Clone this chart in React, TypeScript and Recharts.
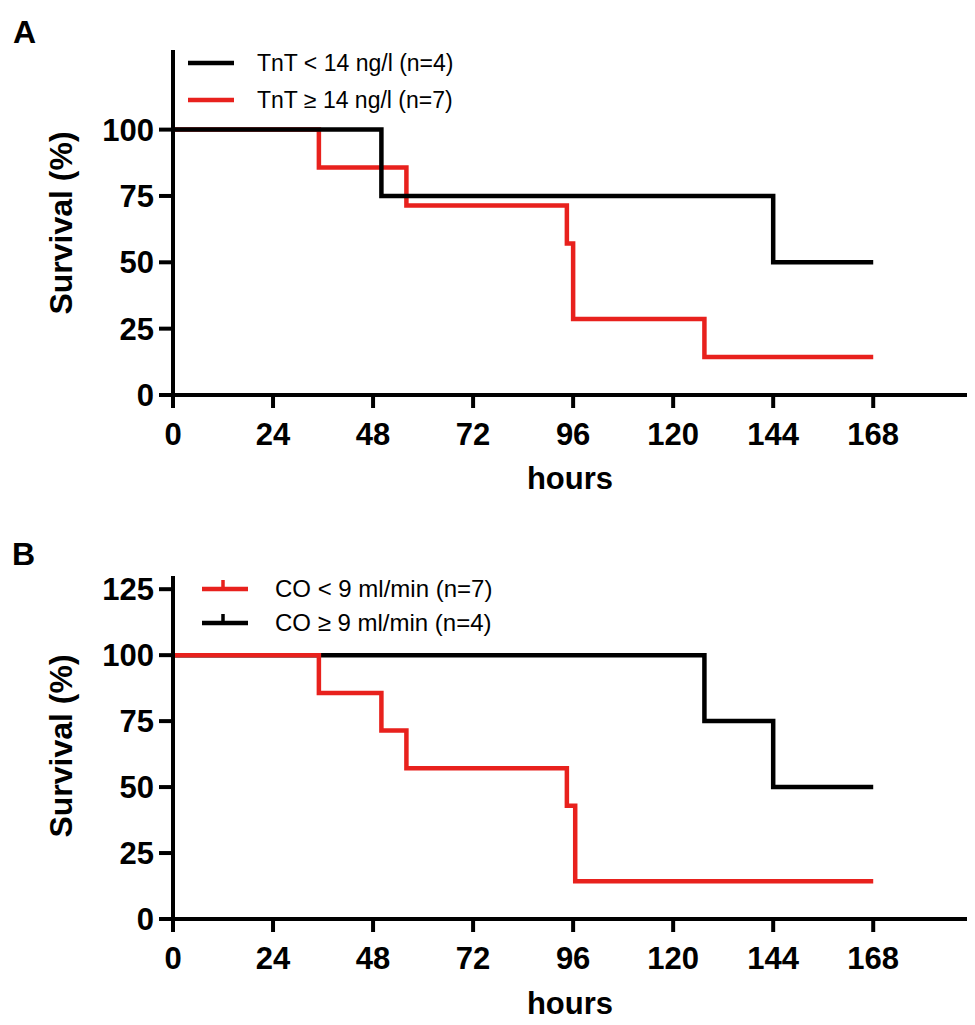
import { Line, LineChart, XAxis, YAxis, Label } from "recharts";

const hourTicks = [0, 24, 48, 72, 96, 120, 144, 168];
const survTicksA = [0, 25, 50, 75, 100];
const survTicksB = [0, 25, 50, 75, 100, 125];

// panel A: troponin T groups
const tntLowHours = [0, 50, 144, 168];
const tntLowSurv = [100, 75, 50, 50];
const tntHighHours = [0, 35, 56, 94.5, 96, 127.5, 168];
const tntHighSurv = [100, 85.7, 71.4, 57.1, 28.6, 14.3, 14.3];

// panel B: cardiac output groups
const coLowHours = [0, 35, 50, 56, 94.5, 96.5, 168];
const coLowSurv = [100, 85.7, 71.4, 57.1, 42.9, 14.3, 14.3];
const coHighHours = [0, 127.5, 144, 168];
const coHighSurv = [100, 75, 50, 50];

const RED = "#e8211d";
const FONT = "'Liberation Sans', Arial, Helvetica, sans-serif";

const pts = (h: number[], s: number[]) => h.map((t, i) => ({ t, s: s[i] }));

const tickStyle = { fontSize: 31, fontWeight: 700, fill: "#000", fontFamily: FONT };
const axisStroke = { stroke: "#000", strokeWidth: 4 };

function yTitle(cy: number) {
  return () => (
    <text
      x={61}
      y={cy}
      transform={`rotate(-90 61 ${cy})`}
      textAnchor="middle"
      dominantBaseline="central"
      style={{ fontSize: 32, fontWeight: 700, fontFamily: FONT, fill: "#000" }}
    >
      Survival (%)
    </text>
  );
}

function xTitle(baseline: number) {
  return () => (
    <text
      x={570}
      y={baseline}
      textAnchor="middle"
      style={{ fontSize: 31, fontWeight: 700, fontFamily: FONT, fill: "#000" }}
    >
      hours
    </text>
  );
}

function LegendRow({
  color,
  label,
  top,
  lineLeft,
  textLeft,
  size,
  censor,
}: {
  color: string;
  label: string;
  top: number;
  lineLeft: number;
  textLeft: number;
  size: number;
  censor?: boolean;
}) {
  return (
    <div style={{ position: "absolute", left: 0, top: top - 15, height: 30, width: 600 }}>
      <svg style={{ position: "absolute", left: lineLeft, top: 0 }} width={48} height={30}>
        <line x1={0} y1={15} x2={46} y2={15} stroke={color} strokeWidth={4.5} />
        {censor && <line x1={21} y1={6} x2={21} y2={17} stroke={color} strokeWidth={3.5} />}
      </svg>
      <div
        style={{
          position: "absolute",
          left: textLeft,
          top: 0,
          height: 30,
          lineHeight: "30px",
          fontSize: size,
          fontFamily: FONT,
          color: "#000",
          whiteSpace: "nowrap",
        }}
      >
        {label}
      </div>
    </div>
  );
}

export default function App() {
  return (
    <div
      style={{
        position: "absolute",
        left: 0,
        top: 0,
        width: 975,
        height: 1025,
        background: "#fff",
        fontFamily: FONT,
      }}
    >
      <div style={{ position: "absolute", left: 13, top: 14, fontSize: 32, fontWeight: 700 }}>A</div>
      <div style={{ position: "absolute", left: 12, top: 536, fontSize: 32, fontWeight: 700 }}>B</div>

      <div style={{ position: "absolute", left: 0, top: 0 }}>
        <LineChart width={975} height={520} margin={{ top: 50, right: 8, left: 0, bottom: 0 }}>
          <XAxis
            type="number"
            dataKey="t"
            domain={[0, 190.5]}
            ticks={hourTicks}
            allowDataOverflow
            height={125}
            tickSize={13}
            tickMargin={15}
            axisLine={axisStroke}
            tickLine={axisStroke}
            tick={tickStyle}
          >
            <Label content={xTitle(489)} />
          </XAxis>
          <YAxis
            type="number"
            dataKey="s"
            domain={[0, 130]}
            ticks={survTicksA}
            allowDataOverflow
            width={173}
            tickSize={14}
            tickMargin={5}
            axisLine={axisStroke}
            tickLine={axisStroke}
            tick={tickStyle}
          >
            <Label content={yTitle(223)} />
          </YAxis>
          <Line
            data={pts(tntHighHours, tntHighSurv)}
            dataKey="s"
            type="stepAfter"
            stroke={RED}
            strokeWidth={4.5}
            dot={false}
            isAnimationActive={false}
          />
          <Line
            data={pts(tntLowHours, tntLowSurv)}
            dataKey="s"
            type="stepAfter"
            stroke="#000"
            strokeWidth={4.5}
            dot={false}
            isAnimationActive={false}
          />
        </LineChart>
        <LegendRow color="#000" label="TnT < 14 ng/l (n=4)" top={63} lineLeft={188} textLeft={257} size={23} />
        <LegendRow color={RED} label="TnT ≥ 14 ng/l (n=7)" top={100} lineLeft={188} textLeft={257} size={23} />
      </div>

      <div style={{ position: "absolute", left: 0, top: 520 }}>
        <LineChart width={975} height={505} margin={{ top: 56, right: 8, left: 0, bottom: 0 }}>
          <XAxis
            type="number"
            dataKey="t"
            domain={[0, 190.5]}
            ticks={hourTicks}
            allowDataOverflow
            height={106}
            tickSize={13}
            tickMargin={15}
            axisLine={axisStroke}
            tickLine={axisStroke}
            tick={tickStyle}
          >
            <Label content={xTitle(494)} />
          </XAxis>
          <YAxis
            type="number"
            dataKey="s"
            domain={[0, 130]}
            ticks={survTicksB}
            allowDataOverflow
            width={173}
            tickSize={14}
            tickMargin={5}
            axisLine={axisStroke}
            tickLine={axisStroke}
            tick={tickStyle}
          >
            <Label content={yTitle(226)} />
          </YAxis>
          <Line
            data={pts(coHighHours, coHighSurv)}
            dataKey="s"
            type="stepAfter"
            stroke="#000"
            strokeWidth={4.5}
            dot={false}
            isAnimationActive={false}
          />
          <Line
            data={pts(coLowHours, coLowSurv)}
            dataKey="s"
            type="stepAfter"
            stroke={RED}
            strokeWidth={4.5}
            dot={false}
            isAnimationActive={false}
          />
        </LineChart>
        <LegendRow color={RED} label="CO < 9 ml/min (n=7)" top={69} lineLeft={202} textLeft={275} size={24} censor />
        <LegendRow color="#000" label="CO ≥ 9 ml/min (n=4)" top={103} lineLeft={202} textLeft={275} size={24} censor />
      </div>
    </div>
  );
}
